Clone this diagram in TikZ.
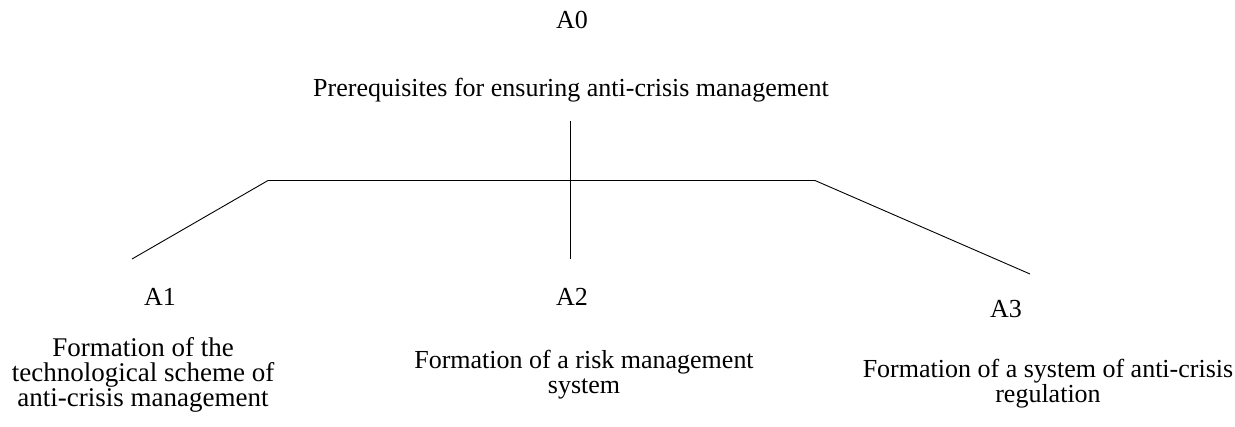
\documentclass[tikz,border=0pt]{standalone}
\usepackage{fontspec}
\setmainfont{Liberation Serif}
\begin{document}
\begin{tikzpicture}[x=1pt,y=-1pt,lbl/.style={inner sep=0pt,align=center,font=\fontsize{26}{25}\selectfont}]
\useasboundingbox (0,0) rectangle (1235,427);
\node[lbl] (a0) at (572,20) {A0};
\node[lbl] (p0) at (571,90) {Prerequisites for ensuring anti-crisis management};
\node[lbl] (a1) at (160,297) {A1};
\node[lbl] (a2) at (572,297) {A2};
\node[lbl] (a3) at (1006,309) {A3};
\node[lbl,font=\fontsize{27}{25}\selectfont] (p1) at (143,375) {Formation of the\\technological scheme of\\anti-crisis management};
\node[lbl] (p2) at (584,375) {Formation of a risk management\\system};
\node[lbl] (p3) at (1048,384) {Formation of a system of anti-crisis\\regulation};
\coordinate (e1) at (132,259);
\coordinate (k1) at (268,180.5);
\coordinate (k2) at (815,180.5);
\coordinate (e3) at (1030,274);
\coordinate (t0) at (570.5,121);
\coordinate (e2) at (570.5,259);
\draw[line width=0.9pt] (e1) -- (k1) -- (k2) -- (e3);
\draw[line width=0.9pt] (t0) -- (e2);
\end{tikzpicture}
\end{document}
